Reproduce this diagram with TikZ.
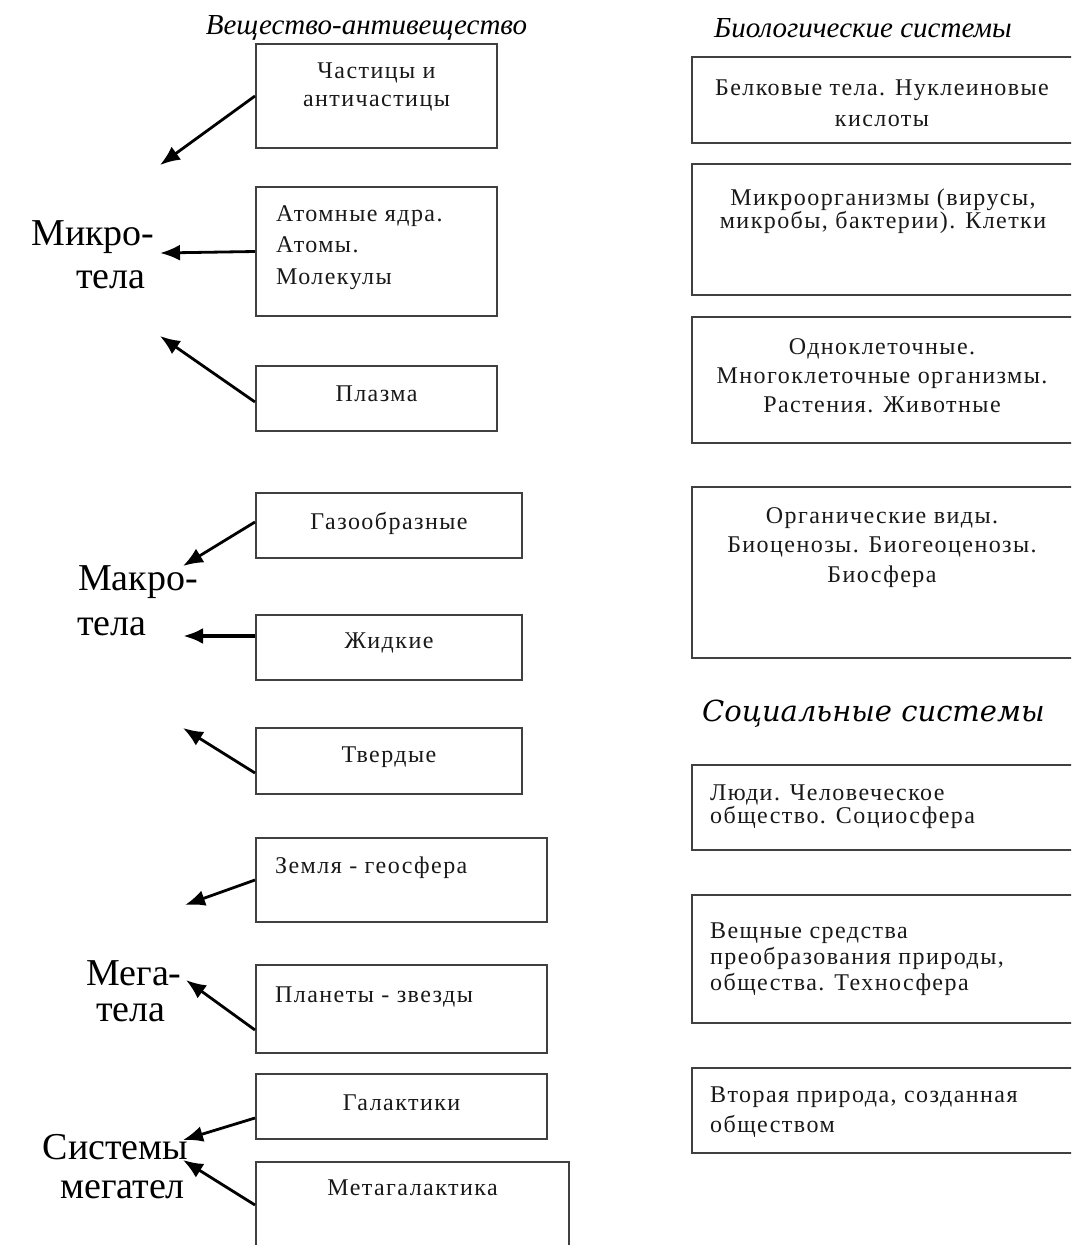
\documentclass[tikz,border=0pt]{standalone}
\usepackage{fontspec}
\setmainfont{Liberation Serif}
\newfontfamily\bodyfont{Liberation Serif}[LetterSpace=6]
\newfontfamily\headfont{DejaVu Serif}
\usetikzlibrary{arrows.meta}
\newcommand{\bsize}[1]{\bodyfont\fontsize{24}{#1}\selectfont}
\begin{document}
\begin{tikzpicture}[
            x=1pt, y=-1pt,
            box/.style={rectangle, draw=black!75, line width=2pt, inner sep=0pt},
            txt/.style={inner sep=0pt, text=black!90, font=\bsize{28}},
            big/.style={inner sep=0pt, font=\fontsize{38}{44}\selectfont},
            head/.style={inner sep=0pt, font=\itshape\fontsize{29}{32}\selectfont},
            link/.style={line width=2.8pt, -{Latex[length=20pt,width=16pt]}}
        ]
            \useasboundingbox (0,0) rectangle (1071,1245);
            \clip (0,0) rectangle (1071,1245);
            \fill[white] (0,0) rectangle (1071,1245);
            % headings
            \node[head] (hmat) at (366.5, 28) {Вещество-антивещество};
            \node[head] (hbio) at (863, 28) {Биологические системы};
            \node[head, font=\headfont\itshape\fontsize{29}{32}\selectfont] (hsoc) at (873.5, 714) {Социальные системы};
            % left column
            \node[box, minimum width=241pt, minimum height=104pt] (b1) at (376.5, 96) {};
            \node[box, minimum width=241pt, minimum height=129pt] (b2) at (376.5, 251.5) {};
            \node[box, minimum width=241pt, minimum height=65pt] (b3) at (376.5, 398.5) {};
            \node[box, minimum width=266pt, minimum height=65pt] (b4) at (389, 525.5) {};
            \node[box, minimum width=266pt, minimum height=65pt] (b5) at (389, 647.5) {};
            \node[box, minimum width=266pt, minimum height=66pt] (b6) at (389, 761) {};
            \node[box, minimum width=291pt, minimum height=84pt] (b7) at (401.5, 880) {};
            \node[box, minimum width=291pt, minimum height=88pt] (b8) at (401.5, 1009) {};
            \node[box, minimum width=291pt, minimum height=65pt] (b9) at (401.5, 1106.5) {};
            \node[box, minimum width=313pt, minimum height=98pt] (b10) at (412.5, 1211) {};
            \node[txt, align=center] (b1t) at (376.5, 87) {Частицы и\\античастицы};
            \node[txt, align=left, anchor=west, font=\bsize{31.5}] (b2t) at (276, 247.5) {Атомные ядра.\\Атомы.\\Молекулы};
            \node[txt] (b3t) at (376.5, 394) {Плазма};
            \node[txt] (b4t) at (389, 523) {Газообразные};
            \node[txt] (b5t) at (389, 643) {Жидкие};
            \node[txt] (b6t) at (389, 757) {Твердые};
            \node[txt, anchor=west] (b7t) at (275, 868) {Земля - геосфера};
            \node[txt, anchor=west] (b8t) at (275, 997) {Планеты - звезды};
            \node[txt] (b9t) at (401.5, 1103) {Галактики};
            \node[txt] (b10t) at (412.5, 1188) {Метагалактика};
            % groups
            \node[big] (g1a) at (93, 237) {Микро-};
            \node[big] (g1b) at (111, 280) {тела};
            \node[big] (g2a) at (138, 582) {Макро-};
            \node[big] (g2b) at (112, 627) {тела};
            \node[big] (g3a) at (134, 973) {Мега-};
            \node[big] (g3b) at (131, 1013) {тела};
            \node[big] (g4a) at (115.5, 1147) {Системы};
            \node[big] (g4b) at (122.5, 1190) {мегател};
            \coordinate (t1) at (160, 165);
            \coordinate (t2) at (160, 253);
            \coordinate (t3) at (160, 336);
            \coordinate (t4) at (183, 566);
            \coordinate (t5) at (183, 636);
            \coordinate (t6) at (183, 728);
            \coordinate (t7) at (185, 905);
            \coordinate (t8) at (186, 980);
            \coordinate (t9) at (183, 1140);
            \coordinate (t10) at (183, 1160);
            \draw[link] (b1.west) -- (t1);
            \draw[link] (b2.west) -- (t2);
            \draw[link] ([yshift=-3.5pt]b3.west) -- (t3);
            \draw[link] ([yshift=3.5pt]b4.west) -- (t4);
            \draw[link, line width=4pt] ([yshift=11.5pt]b5.west) -- (t5);
            \draw[link] ([yshift=-12pt]b6.west) -- (t6);
            \draw[link] (b7.west) -- (t7);
            \draw[link] ([yshift=-21pt]b8.west) -- (t8);
            \draw[link] ([yshift=-11.5pt]b9.west) -- (t9);
            \draw[link] ([yshift=6pt]b10.west) -- (t10);
            % right column
            \node[box, minimum width=384pt, minimum height=86pt] (r1) at (884, 100) {};
            \node[box, minimum width=384pt, minimum height=131pt] (r2) at (884, 229.5) {};
            \node[box, minimum width=384pt, minimum height=126pt] (r3) at (884, 380) {};
            \node[box, minimum width=384pt, minimum height=171pt] (r4) at (884, 572.5) {};
            \node[box, minimum width=384pt, minimum height=85pt] (r5) at (884, 807.5) {};
            \node[box, minimum width=384pt, minimum height=128pt] (r6) at (884, 959) {};
            \node[box, minimum width=384pt, minimum height=85pt] (r7) at (884, 1110.5) {};
            \node[txt, align=center, font=\bsize{31}] (r1t) at (882, 103.5) {Белковые тела. Нуклеиновые\\кислоты};
            \node[txt, align=center, font=\bsize{23}] (r2t) at (883, 211.5) {Микроорганизмы (вирусы,\\микробы, бактерии). Клетки};
            \node[txt, align=center, font=\bsize{29}] (r3t) at (882, 376) {Одноклеточные.\\Многоклеточные организмы.\\Растения. Животные};
            \node[txt, align=center, font=\bsize{29.5}] (r4t) at (882, 547.5) {Органические виды.\\Биоценозы. Биогеоценозы.\\Биосфера};
            \node[txt, align=left, anchor=west, font=\bsize{23}] (r5t) at (710, 806.5) {Люди. Человеческое\\общество. Социосфера};
            \node[txt, align=left, anchor=west, font=\bsize{26}] (r6t) at (710, 959) {Вещные средства\\преобразования природы,\\общества. Техносфера};
            \node[txt, align=left, anchor=west, font=\bsize{30}] (r7t) at (710, 1112) {Вторая природа, созданная\\обществом};
        \end{tikzpicture}
\end{document}
